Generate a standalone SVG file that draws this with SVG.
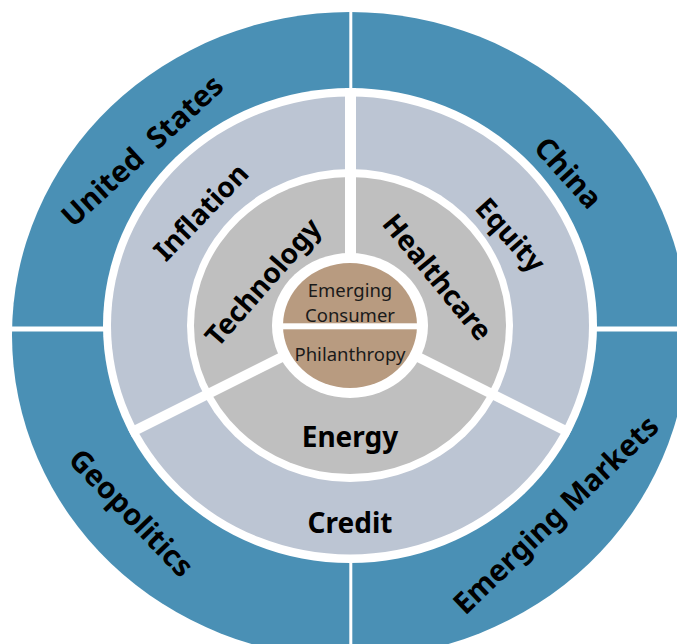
<svg xmlns="http://www.w3.org/2000/svg" width="677" height="644" viewBox="0 0 677 644">
  <style>
    .blue { fill: #4A90B5; }
    .light { fill: #BCC5D3; }
    .gray { fill: #BFBFBF; }
    .tan { fill: #B89B80; }
    .gap { fill: #FFFFFF; }
    .div { stroke: #FFFFFF; fill: none; }
    .lbl { font-family: "Noto Sans", "Open Sans", "DejaVu Sans", sans-serif; font-weight: bold; font-size: 28px; fill: #000000; text-anchor: middle; }
    .outer { font-size: 29.5px; }
    .core { font-family: "Noto Sans", "Open Sans", "DejaVu Sans", sans-serif; font-size: 18.5px; fill: #1a1a1a; text-anchor: middle; }
  </style>
  <defs>
    <clipPath id="innerClip">
      <ellipse cx="350" cy="325.5" rx="247" ry="237.5"/>
    </clipPath>
  </defs>
  <rect width="677" height="644" fill="#FFFFFF"/>

  <g id="rings">
    <ellipse class="blue" cx="350" cy="335" rx="338" ry="323"/>
  </g>

  <g id="connectors">
    <line class="div" x1="350.8" y1="0" x2="350.8" y2="644" stroke-width="3"/>
    <line class="div" x1="0" y1="329" x2="677" y2="329" stroke-width="5"/>
  </g>

  <g id="inner-rings">
    <ellipse class="gap" cx="350" cy="325.5" rx="247" ry="237.5"/>
    <ellipse class="light" cx="350" cy="325.5" rx="239" ry="229"/>
    <ellipse class="gap" cx="350" cy="325.5" rx="163" ry="156.5"/>
    <ellipse class="gray" cx="350" cy="325.5" rx="156" ry="148.5"/>
  </g>

  <g id="inner-connectors" clip-path="url(#innerClip)">
    <line class="div" x1="350.5" y1="60" x2="350.5" y2="325" stroke-width="11"/>
    <line class="div" x1="350" y1="323" x2="100" y2="448" stroke-width="10"/>
    <line class="div" x1="350" y1="323" x2="600" y2="448" stroke-width="10"/>
  </g>

  <g id="core">
    <ellipse class="gap" cx="350" cy="325.5" rx="78" ry="72.5"/>
    <ellipse class="tan" cx="350" cy="325.5" rx="67" ry="62.5"/>
    <rect x="280" y="323.3" width="140" height="6" fill="#FFFFFF"/>
  </g>

  <g id="node-emerging-consumer">
    <text class="core" x="350" y="296.5">Emerging</text>
    <text class="core" x="350" y="321.5">Consumer</text>
  </g>
  <g id="node-philanthropy">
    <text class="core" x="350" y="360.5">Philanthropy</text>
  </g>

  <g id="node-technology"><text class="lbl" transform="translate(263,282) rotate(-48.7)" y="10">Technology</text></g>
  <g id="node-healthcare"><text class="lbl" transform="translate(437.5,277) rotate(50.6)" y="10">Healthcare</text></g>
  <g id="node-energy"><text class="lbl" x="350" y="447">Energy</text></g>

  <g id="node-inflation"><text class="lbl" transform="translate(201,212) rotate(-46)" y="10">Inflation</text></g>
  <g id="node-equity"><text class="lbl" transform="translate(510.5,235) rotate(48.4)" y="10">Equity</text></g>
  <g id="node-credit"><text class="lbl" x="350" y="533" font-size="30">Credit</text></g>

  <g id="node-united-states"><text class="lbl outer" transform="translate(142.5,151) rotate(-42.6)" y="10" word-spacing="8">United States</text></g>
  <g id="node-china"><text class="lbl outer" transform="translate(568,173) rotate(48)" y="10">China</text></g>
  <g id="node-geopolitics"><text class="lbl outer" transform="translate(131,513) rotate(46)" y="10">Geopolitics</text></g>
  <g id="node-emerging-markets"><text class="lbl outer" transform="translate(556,515) rotate(-43.8)" y="10">Emerging Markets</text></g>
</svg>
